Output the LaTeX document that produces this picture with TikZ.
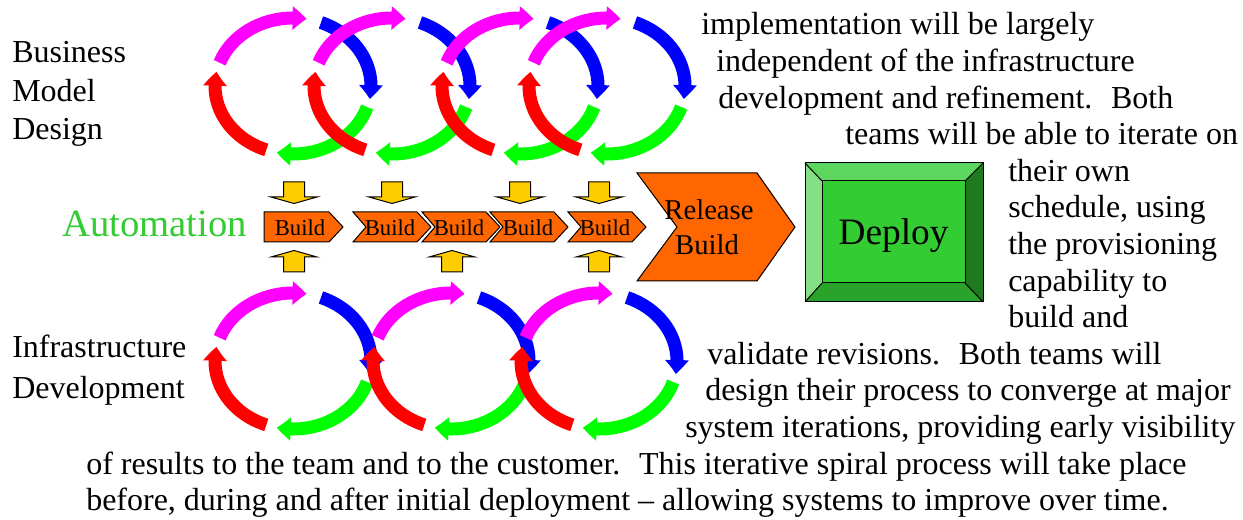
\documentclass[tikz,border=0pt]{standalone}
\usepackage{fontspec}
\setmainfont{Liberation Serif}
\usetikzlibrary{arrows.meta,bending}
\definecolor{cMag}{HTML}{FF00FF}
\definecolor{cBlu}{HTML}{0000FF}
\definecolor{cGrn}{HTML}{00FF00}
\definecolor{cRed}{HTML}{FF0000}
\definecolor{cOra}{HTML}{FF6600}
\definecolor{cYel}{HTML}{FFCC00}
\definecolor{cAuto}{HTML}{33CC33}
\definecolor{dFace}{HTML}{33CC33}
\definecolor{dTop}{HTML}{5CD65C}
\definecolor{dLeft}{HTML}{85E085}
\definecolor{dRight}{HTML}{1F7A1F}
\definecolor{dBot}{HTML}{29A329}
\tikzset{
  arcline/.style={line width=9.75pt,-{Triangle[length=10.5pt,width=17pt,bend]}},
  yarrow/.style={fill=cYel,draw=black,line width=0.75pt,line join=miter},
  chev/.style={fill=cOra,draw=black,line width=0.75pt},
  body/.style={font=\fontsize{24pt}{28pt}\selectfont,anchor=base west,inner sep=0pt},
  buildtxt/.style={font=\fontsize{17pt}{20pt}\selectfont,anchor=base,inner sep=0pt},
  reltxt/.style={font=\fontsize{21.5pt}{26pt}\selectfont,anchor=base,inner sep=0pt},
}
\begin{document}
\begin{tikzpicture}[x=0.75pt,y=-0.75pt]
\useasboundingbox (0,0) rectangle (1243,520);
\fill[white] (0,0) rectangle (1243,520);

% ---- cycles: blue and green underneath
\foreach \cx/\cy in {293/86,392/86,520/86,607/86,293/361,451/361,599/361}{
  \draw[arcline,cBlu] (\cx,\cy) ++(-69:78 and 68) arc[start angle=-69,end angle=11,x radius=78,y radius=68];
  \draw[arcline,cGrn] (\cx,\cy) ++(18:78 and 68) arc[start angle=18,end angle=102,x radius=78,y radius=68];
}
% ---- magenta and red on top
\foreach \cx/\cy in {293/86,392/86,520/86,607/86,293/361,451/361,599/361}{
  \draw[arcline,cMag] (\cx,\cy) ++(-160:78 and 68) arc[start angle=-160,end angle=-80,x radius=78,y radius=68];
  \draw[arcline,cRed] (\cx,\cy) ++(110:78 and 68) arc[start angle=110,end angle=192,x radius=78,y radius=68];
}

% ---- yellow arrows
\foreach \ax in {294,392,520,599}{
  \draw[yarrow] (\ax-10.5,182) -- (\ax+10.5,182) -- (\ax+10.5,197) -- (\ax+23,197) -- (\ax,203.5) -- (\ax-23,197) -- (\ax-10.5,197) -- cycle;
}
\foreach \ax in {294,452,599}{
  \draw[yarrow] (\ax-10.5,272) -- (\ax+10.5,272) -- (\ax+10.5,257) -- (\ax+23,257) -- (\ax,250.5) -- (\ax-23,257) -- (\ax-10.5,257) -- cycle;
}

% ---- build chevrons
\draw[chev] (264,212) -- (329,212) -- (343,227) -- (329,242) -- (264,242) -- cycle;
\node[buildtxt] (b1) at (300,236) {Build};
\foreach \L/\tx/\nm in {353/390/b2,422/459/b3,490/528/b4,568/605/b5}{
  \draw[chev] (\L,212) -- (\L+64,212) -- (\L+78,227) -- (\L+64,242) -- (\L,242) -- (\L+13,227) -- cycle;
  \node[buildtxt] (\nm) at (\tx,236) {Build};
}

% ---- release build
\draw[chev] (637,173) -- (757,173) -- (795,227) -- (757,281) -- (637,281) -- (677,227) -- cycle;
\node[reltxt] (rel1) at (709,220) {Release};
\node[reltxt] (rel2) at (707,255) {Build};

% ---- deploy button
\fill[dTop] (805,163) -- (983,163) -- (965,181) -- (822,181) -- cycle;
\fill[dLeft] (805,163) -- (822,181) -- (822,283) -- (805,302) -- cycle;
\fill[dRight] (983,163) -- (983,302) -- (965,283) -- (965,181) -- cycle;
\fill[dBot] (805,302) -- (983,302) -- (965,283) -- (822,283) -- cycle;
\fill[dFace] (822,181) rectangle (965,283);
\draw[black,line width=0.75pt] (805,163) rectangle (983,302);
\draw[black,line width=0.75pt] (822,181) rectangle (965,283);
\draw[black,line width=0.75pt] (805,163) -- (822,181) (983,163) -- (965,181) (983,302) -- (965,283) (805,302) -- (822,283);
\node[font=\fontsize{28pt}{32pt}\selectfont,anchor=base,inner sep=0pt] (deploy) at (893.5,245) {Deploy};

% ---- left labels
\node[body] (l1) at (12,63) {Business};
\node[body] (l2) at (12,102) {Model};
\node[body] (l3) at (12,140) {Design};
\node[body,font=\fontsize{29pt}{34pt}\selectfont,text=cAuto] (auto) at (62,237) {Automation};
\node[body] (l4) at (12,358) {Infrastructure};
\node[body] (l5) at (12,398) {Development};

% ---- wrapped text
\node[body] (t1) at (701,35) {implementation will be largely};
\node[body] (t2) at (716,71.6) {independent of the infrastructure};
\node[body] (t3) at (718,108.2) {development and refinement.~ Both};
\node[body] (t4) at (845,144.8) {teams will be able to iterate on};
\node[body] (t5) at (1008,181.4) {their own};
\node[body] (t6) at (1008,218) {schedule, using};
\node[body] (t7) at (1008,254.6) {the provisioning};
\node[body] (t8) at (1008,291.2) {capability to};
\node[body] (t9) at (1008,327.8) {build and};
\node[body] (t10) at (707,364.4) {validate revisions.~ Both teams will};
\node[body] (t11) at (705,401) {design their process to converge at major};
\node[body] (t12) at (685,437.6) {system iterations, providing early visibility};
\node[body] (t13) at (86,474.2) {of results to the team and to the customer.~ This iterative spiral process will take place};
\node[body] (t14) at (86,510.8) {before, during and after initial deployment -- allowing systems to improve over time.};
\end{tikzpicture}
\end{document}
